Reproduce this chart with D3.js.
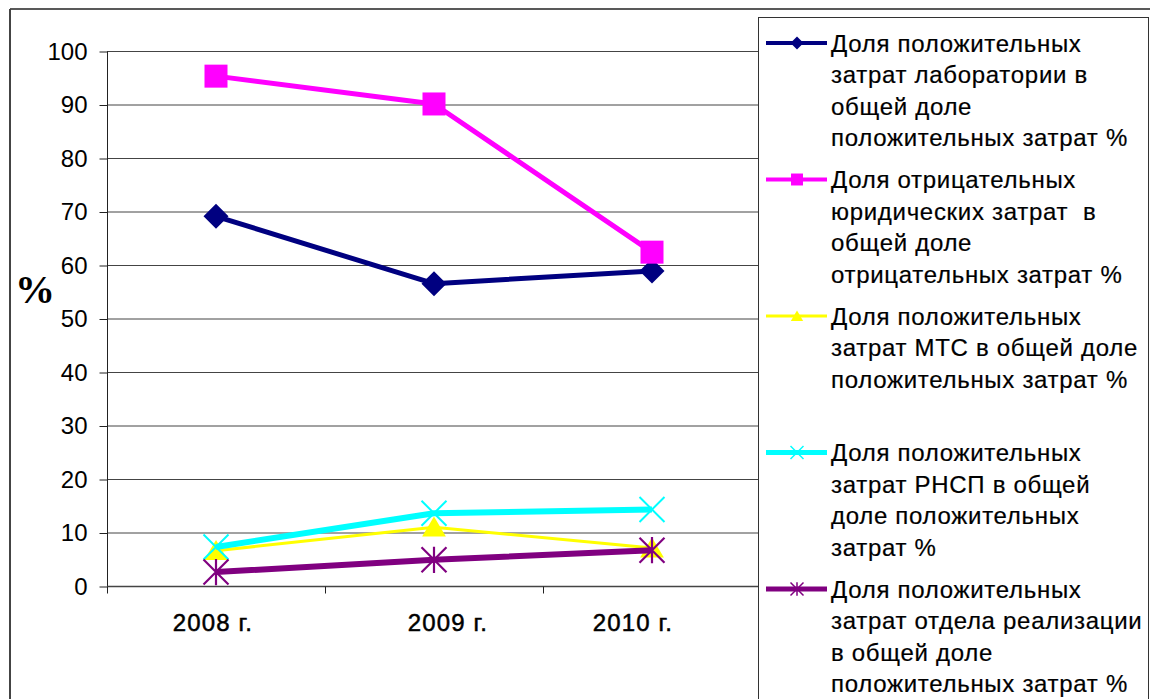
<!DOCTYPE html>
<html><head><meta charset="utf-8">
<script src="https://cdn.jsdelivr.net/npm/d3@7/dist/d3.min.js"></script>
<style>body{margin:0;background:#fff;overflow:hidden} .lgt{white-space:pre}</style>
</head><body>
<svg id="c" width="1150" height="699"></svg>
<script>
const categories = ["2008 г.", "2009 г.", "2010 г."];
const yTicks = [0,10,20,30,40,50,60,70,80,90,100];
const seriesNames = [
  ["Доля положительных","затрат лаборатории в","общей доле","положительных затрат %"],
  ["Доля отрицательных","юридических затрат  в","общей доле","отрицательных затрат %"],
  ["Доля положительных","затрат МТС в общей доле","положительных затрат %"],
  ["Доля положительных","затрат РНСП в общей","доле положительных","затрат %"],
  ["Доля положительных","затрат отдела реализации","в общей доле","положительных затрат %"]
];
const labValues = [69.1, 56.5, 58.9];
const legalValues = [95.3, 90.1, 62.4];
const mtsValues = [6.6, 11.0, 7.1];
const rnspValues = [7.3, 13.6, 14.3];
const salesValues = [2.6, 4.9, 6.7];
const seriesColors = ["#000080", "#FF00FF", "#FFFF00", "#00FFFF", "#800080"];
const seriesMarkers = ["diamond", "square", "triangle", "x", "star"];
const seriesWidths = [5, 5, 3, 6, 6];
const seriesValues = [labValues, legalValues, mtsValues, rnspValues, salesValues];
// layout nudges of the category labels (as placed in the original)
const labelNudge = [-3, 14, -19];

const svg = d3.select("#c");
const font = "'Liberation Sans', Arial, sans-serif";

// outer chart border
svg.append("line").attr("x1",10).attr("x2",1150).attr("y1",9).attr("y2",9).attr("stroke","#222").attr("stroke-width",1.5);
svg.append("line").attr("x1",10).attr("x2",10).attr("y1",9).attr("y2",699).attr("stroke","#444").attr("stroke-width",2);

const x = d3.scaleBand().domain(categories).range([107, 761]);
const y = d3.scaleLinear().domain([0,100]).range([586, 51]);

// gridlines
svg.append("g").selectAll("line").data(yTicks.filter(d=>d>0)).join("line")
  .attr("x1",107).attr("x2",761).attr("y1",d=>y(d)+0.5).attr("y2",d=>y(d)+0.5)
  .attr("stroke","#444").attr("stroke-width",1);

// y axis
const yAxis = d3.axisLeft(y).tickValues(yTicks).tickSize(8).tickPadding(10).tickFormat(d3.format("d"));
const gy = svg.append("g").attr("transform","translate(107.5,0.5)").call(yAxis);
gy.select(".domain").attr("stroke","#222").attr("d","M0,"+y(100)+"V"+(y(0)+6));
gy.selectAll(".tick line").attr("stroke","#222");
gy.selectAll("text").attr("font-family",font).attr("font-size",24).attr("fill","#000").attr("dx",-2);

// x axis
const gx = svg.append("g").attr("transform","translate(0,"+(y(0)+0.5)+")");
gx.append("line").attr("x1",107).attr("x2",761).attr("stroke","#444").attr("stroke-width",1.5);
const bounds = categories.map(c=>x(c)).concat([x.range()[1]]);
gx.selectAll(".tk").data(bounds).join("line").attr("class","tk")
  .attr("x1",d=>d+0.5).attr("x2",d=>d+0.5).attr("y1",0).attr("y2",7).attr("stroke","#222");
gx.selectAll("text").data(categories).join("text")
  .attr("x",(d,i)=>x(d)+x.bandwidth()/2+labelNudge[i]).attr("y",44).attr("text-anchor","middle")
  .attr("font-family",font).attr("font-size",24).attr("letter-spacing",1.1).attr("fill","#000")
  .attr("stroke","#000").attr("stroke-width",0.5).text(d=>d);

// y label
svg.append("text").attr("x",35).attr("y",303).attr("text-anchor","middle")
  .attr("font-family","'Liberation Serif','Times New Roman',serif").attr("font-weight","bold")
  .attr("font-size",40).attr("fill","#000").text("%");

function marker(g, type, color, s) {
  if (type==="diamond") {
    g.append("path").attr("d",`M0,${-s}L${s},0L0,${s}L${-s},0Z`).attr("fill",color);
  } else if (type==="square") {
    g.append("rect").attr("x",-s*0.92).attr("y",-s*0.92).attr("width",s*1.84).attr("height",s*1.84).attr("fill",color);
  } else if (type==="triangle") {
    g.append("path").attr("d",`M0,${-s*0.85}L${s*0.95},${s*0.75}L${-s*0.95},${s*0.75}Z`).attr("fill",color);
  } else if (type==="x") {
    g.append("path").attr("d",`M${-s},${-s}L${s},${s}M${s},${-s}L${-s},${s}`).attr("stroke",color).attr("stroke-width",s>8?2:1.5);
  } else if (type==="star") {
    g.append("path").attr("d",`M${-s},${-s}L${s},${s}M${s},${-s}L${-s},${s}M0,${-s*1.05}V${s*1.05}`).attr("stroke",color).attr("stroke-width",s>8?2.2:1.5);
  }
}

// series
const line = d3.line().x((d,i)=>x(categories[i])+x.bandwidth()/2).y(d=>y(d));
seriesValues.forEach((vals, k) => {
  const g = svg.append("g");
  g.append("path").attr("d", line(vals)).attr("fill","none")
    .attr("stroke", seriesColors[k]).attr("stroke-width", seriesWidths[k]).attr("stroke-linejoin","round");
  vals.forEach((v,i) => {
    const mg = g.append("g").attr("transform",`translate(${x(categories[i])+x.bandwidth()/2},${y(v)})`);
    marker(mg, seriesMarkers[k], seriesColors[k], 12.5);
  });
});

// legend
svg.append("rect").attr("x",758.5).attr("y",17.5).attr("width",390).attr("height",700)
  .attr("fill","#fff").attr("stroke","#333").attr("stroke-width",1);
const lg = svg.append("g");
seriesNames.forEach((lines, k) => {
  const cy = 43 + k*136.5;
  lg.append("line").attr("x1",766).attr("x2",827).attr("y1",cy).attr("y2",cy)
    .attr("stroke",seriesColors[k]).attr("stroke-width",Math.max(3,seriesWidths[k]-1));
  const mg = lg.append("g").attr("transform",`translate(797,${cy})`);
  marker(mg, seriesMarkers[k], seriesColors[k], 6.5);
  lines.forEach((t,j) => {
    lg.append("text").attr("class","lgt").attr("x",831).attr("y",cy + j*31.5 + 8.5)
      .attr("font-family",font).attr("font-size",24).attr("letter-spacing",0.7)
      .attr("fill","#000").attr("stroke","#000").attr("stroke-width",0.2).text(t);
  });
});
</script>
</body></html>
